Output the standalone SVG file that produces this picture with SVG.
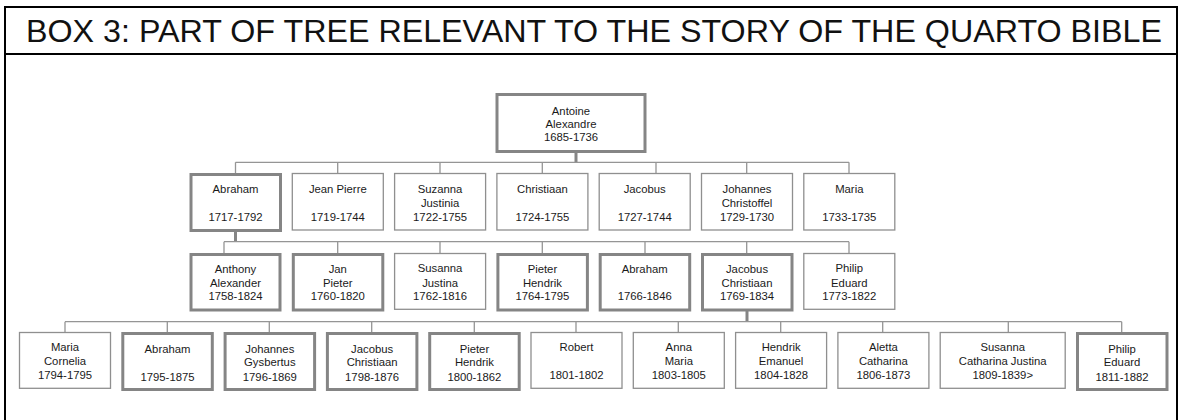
<svg xmlns="http://www.w3.org/2000/svg" width="1179" height="420" viewBox="0 0 1179 420">
<style>
.frame{fill:none;stroke:#000;stroke-width:2}
.title{font-family:"Liberation Sans",Arial,sans-serif;font-size:31.5px;fill:#111}
.thin{fill:#fff;stroke:#8f8f8f;stroke-width:1.3}
.thick{fill:#fff;stroke:#858585;stroke-width:3}
.t{font-family:"Liberation Sans",Arial,sans-serif;font-size:11.3px;fill:#1a1a1a;text-anchor:middle}
.c{fill:none;stroke:#959595;stroke-width:1.3}
.cp{fill:none;stroke:#858585;stroke-width:3}
</style>
<rect x="0" y="0" width="1179" height="420" fill="#fff"/>
<rect class="frame" x="5" y="7" width="1172" height="420"/>
<line class="frame" x1="5" y1="54" x2="1177" y2="54"/>
<text class="title" x="26" y="42" textLength="1136" lengthAdjust="spacingAndGlyphs">BOX 3: PART OF TREE RELEVANT TO THE STORY OF THE QUARTO BIBLE</text>

<g id="connectors">
<path class="cp" d="M576 152V162.3"/>
<path class="c" d="M235.5 162.3H849M235.5 162.3V173.3M337.7 162.3V173.3M440 162.3V173.3M542.3 162.3V173.3M656 162.3V173.3M746.7 162.3V173.3M849 162.3V173.3"/>
<path class="cp" d="M235.5 231V241.7"/>
<path class="c" d="M224 241.7H849M224 241.7V253.3M337.7 241.7V253.3M440 241.7V253.3M542.3 241.7V253.3M645 241.7V253.3M746.7 241.7V253.3M849 241.7V253.3"/>
<path class="cp" d="M747 311V321.7"/>
<path class="c" d="M65 321.7H1121.7M65 321.7V332.3M167.3 321.7V332.3M269.3 321.7V332.3M371.7 321.7V332.3M474.3 321.7V332.3M576 321.7V332.3M678.3 321.7V332.3M780.7 321.7V332.3M882.7 321.7V332.3M1008.3 321.7V332.3M1121.7 321.7V332.3"/>
</g>

<g id="antoine"><rect class="thick" x="497" y="94.5" width="148" height="57"/><text class="t" x="571" y="114.7">Antoine</text><text class="t" x="571" y="127.5">Alexandre</text><text class="t" x="571" y="141">1685-1736</text></g>

<g id="abraham1717"><rect class="thick" x="191" y="174.5" width="89.5" height="56"/><text class="t" x="235.5" y="193.3">Abraham</text><text class="t" x="235.5" y="221.3">1717-1792</text></g>
<g id="jeanpierre"><rect class="thin" x="292.3" y="173.5" width="91" height="56.5"/><text class="t" x="337.8" y="193.3">Jean Pierre</text><text class="t" x="337.8" y="221.3">1719-1744</text></g>
<g id="suzanna"><rect class="thin" x="394.6" y="173.5" width="91" height="56.5"/><text class="t" x="440.1" y="193.3">Suzanna</text><text class="t" x="440.1" y="206.5">Justinia</text><text class="t" x="440.1" y="221.3">1722-1755</text></g>
<g id="christiaan"><rect class="thin" x="496.9" y="173.5" width="91" height="56.5"/><text class="t" x="542.4" y="193.3">Christiaan</text><text class="t" x="542.4" y="221.3">1724-1755</text></g>
<g id="jacobus1727"><rect class="thin" x="599.2" y="173.5" width="91" height="56.5"/><text class="t" x="644.7" y="193.3">Jacobus</text><text class="t" x="644.7" y="221.3">1727-1744</text></g>
<g id="johannes"><rect class="thin" x="701.5" y="173.5" width="91" height="56.5"/><text class="t" x="747" y="193.3">Johannes</text><text class="t" x="747" y="206.5">Christoffel</text><text class="t" x="747" y="221.3">1729-1730</text></g>
<g id="maria1733"><rect class="thin" x="803.8" y="173.5" width="91" height="56.5"/><text class="t" x="849.3" y="193.3">Maria</text><text class="t" x="849.3" y="221.3">1733-1735</text></g>

<g id="anthony"><rect class="thick" x="191" y="254.5" width="89" height="55.5"/><text class="t" x="235.5" y="272.8">Anthony</text><text class="t" x="235.5" y="286.6">Alexander</text><text class="t" x="235.5" y="300.3">1758-1824</text></g>
<g id="janpieter"><rect class="thick" x="293.3" y="254.5" width="89.5" height="55.5"/><text class="t" x="337.8" y="272.8">Jan</text><text class="t" x="337.8" y="286.6">Pieter</text><text class="t" x="337.8" y="300.3">1760-1820</text></g>
<g id="susanna1762"><rect class="thin" x="394.6" y="253.5" width="91" height="55.8"/><text class="t" x="440.1" y="272.3">Susanna</text><text class="t" x="440.1" y="286.6">Justina</text><text class="t" x="440.1" y="300">1762-1816</text></g>
<g id="pieter1764"><rect class="thick" x="497.9" y="254.5" width="89.5" height="55.5"/><text class="t" x="542.4" y="272.8">Pieter</text><text class="t" x="542.4" y="286.6">Hendrik</text><text class="t" x="542.4" y="300.3">1764-1795</text></g>
<g id="abraham1766"><rect class="thick" x="600.2" y="254.5" width="89.5" height="55.5"/><text class="t" x="644.7" y="272.8">Abraham</text><text class="t" x="644.7" y="300.3">1766-1846</text></g>
<g id="jacobus1769"><rect class="thick" x="702.5" y="254.5" width="89.5" height="55.5"/><text class="t" x="747" y="272.8">Jacobus</text><text class="t" x="747" y="286.6">Christiaan</text><text class="t" x="747" y="300.3">1769-1834</text></g>
<g id="philip1773"><rect class="thin" x="803.8" y="253.5" width="91" height="55.8"/><text class="t" x="849.3" y="272.3">Philip</text><text class="t" x="849.3" y="286.6">Eduard</text><text class="t" x="849.3" y="300">1773-1822</text></g>

<g id="maria1794"><rect class="thin" x="19.5" y="332.5" width="91" height="55.8"/><text class="t" x="65" y="351.3">Maria</text><text class="t" x="65" y="365">Cornelia</text><text class="t" x="65" y="379">1794-1795</text></g>
<g id="abraham1795"><rect class="thick" x="122.8" y="333.5" width="89.5" height="56"/><text class="t" x="167.5" y="352.5">Abraham</text><text class="t" x="167.5" y="380.5">1795-1875</text></g>
<g id="johannes1796"><rect class="thick" x="225.1" y="333.5" width="89.5" height="56"/><text class="t" x="269.8" y="352.5">Johannes</text><text class="t" x="269.8" y="366.3">Gysbertus</text><text class="t" x="269.8" y="380.5">1796-1869</text></g>
<g id="jacobus1798"><rect class="thick" x="327.4" y="333.5" width="89.5" height="56"/><text class="t" x="372.1" y="352.5">Jacobus</text><text class="t" x="372.1" y="366.3">Christiaan</text><text class="t" x="372.1" y="380.5">1798-1876</text></g>
<g id="pieter1800"><rect class="thick" x="429.7" y="333.5" width="89.5" height="56"/><text class="t" x="474.4" y="352.5">Pieter</text><text class="t" x="474.4" y="366.3">Hendrik</text><text class="t" x="474.4" y="380.5">1800-1862</text></g>
<g id="robert"><rect class="thin" x="531" y="332.5" width="91" height="55.8"/><text class="t" x="576.5" y="351.3">Robert</text><text class="t" x="576.5" y="379">1801-1802</text></g>
<g id="annamaria"><rect class="thin" x="633.3" y="332.5" width="91" height="55.8"/><text class="t" x="678.8" y="351.3">Anna</text><text class="t" x="678.8" y="365">Maria</text><text class="t" x="678.8" y="379">1803-1805</text></g>
<g id="hendrik"><rect class="thin" x="735.6" y="332.5" width="91" height="55.8"/><text class="t" x="781.1" y="351.3">Hendrik</text><text class="t" x="781.1" y="365">Emanuel</text><text class="t" x="781.1" y="379">1804-1828</text></g>
<g id="aletta"><rect class="thin" x="837.9" y="332.5" width="91" height="55.8"/><text class="t" x="883.4" y="351.3">Aletta</text><text class="t" x="883.4" y="365">Catharina</text><text class="t" x="883.4" y="379">1806-1873</text></g>
<g id="susanna1809"><rect class="thin" x="940.2" y="332.5" width="125" height="55.8"/><text class="t" x="1002.7" y="351.3">Susanna</text><text class="t" x="1002.7" y="365">Catharina Justina</text><text class="t" x="1002.7" y="379">1809-1839&gt;</text></g>
<g id="philip1811"><rect class="thick" x="1077.5" y="333.5" width="89.5" height="56"/><text class="t" x="1122" y="352.5">Philip</text><text class="t" x="1122" y="366.3">Eduard</text><text class="t" x="1122" y="380.5">1811-1882</text></g>
</svg>
